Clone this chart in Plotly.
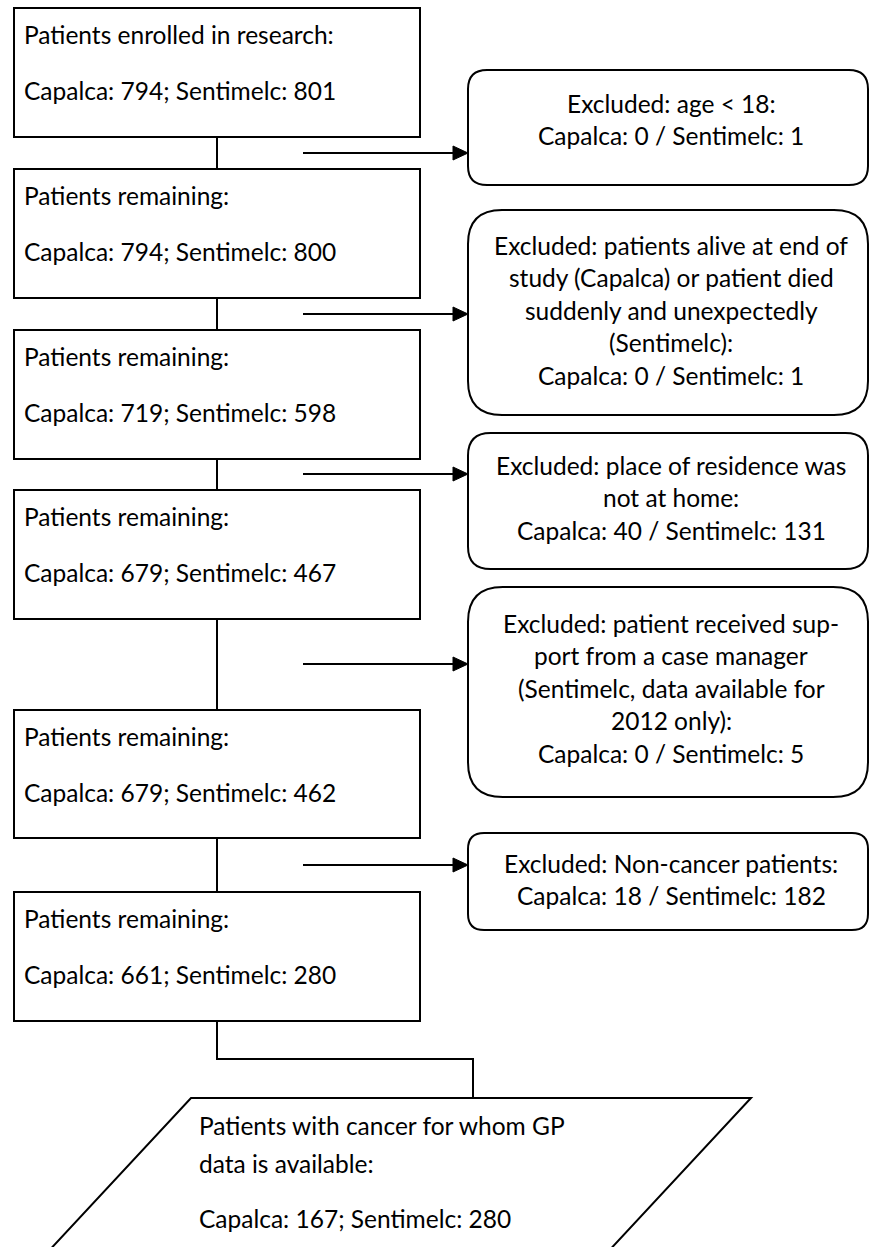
import plotly.graph_objects as go

# ---------------- data ----------------
main_titles = ["Patients enrolled in research:", "Patients remaining:", "Patients remaining:",
               "Patients remaining:", "Patients remaining:", "Patients remaining:"]
capalca_remaining = [794, 794, 719, 679, 679, 661]
sentimelc_remaining = [801, 800, 598, 467, 462, 280]

exclusion_reasons = [
    ["Excluded: age < 18:"],
    ["Excluded: patients alive at end of", "study (Capalca) or patient died",
     "suddenly and unexpectedly", "(Sentimelc):"],
    ["Excluded: place of residence was", "not at home:"],
    ["Excluded: patient received sup-", "port from a case manager",
     "(Sentimelc, data available for", "2012 only):"],
    ["Excluded: Non-cancer patients:"],
]
capalca_excluded = [0, 0, 40, 0, 18]
sentimelc_excluded = [1, 1, 131, 5, 182]

final_title = ["Patients with cancer for whom GP", "data is available:"]
final_capalca = 167
final_sentimelc = 280

# ---------------- layout geometry ----------------
W, H = 869, 1247
FONT = "Lato, Carlito, Calibri, sans-serif"
FS = 24.5
LW = 2

left_x0, left_x1 = 14, 420
left_boxes_y = [(8, 137), (169, 298), (330, 459), (490, 619), (710, 838), (892, 1021)]
right_x0, right_x1 = 468, 868
right_boxes_y = [(70, 185), (210, 415), (433, 569), (587, 797), (833, 930)]
right_first_line = [103, 245, 465, 623, 863]
line_gap = 32.5
arrow_y = [153, 314, 474, 664, 865]
arrow_x0 = 303

shapes = []
annotations = []

def line(x0, y0, x1, y1):
    shapes.append(dict(type="line", x0=x0, y0=y0, x1=x1, y1=y1, xref="x", yref="y",
                       line=dict(color="black", width=LW)))

def rounded(x0, y0, x1, y1, r):
    p = (f"M {x0+r} {y0} L {x1-r} {y0} Q {x1} {y0} {x1} {y0+r} "
         f"L {x1} {y1-r} Q {x1} {y1} {x1-r} {y1} L {x0+r} {y1} "
         f"Q {x0} {y1} {x0} {y1-r} L {x0} {y0+r} Q {x0} {y0} {x0+r} {y0} Z")
    shapes.append(dict(type="path", path=p, xref="x", yref="y",
                       line=dict(color="black", width=LW), fillcolor="white"))

def text(x, y, s, anchor="left"):
    annotations.append(dict(x=x, y=y, xref="x", yref="y", text=s, showarrow=False,
                            xanchor=anchor, yanchor="middle",
                            font=dict(family=FONT, size=FS, color="black")))

cx = (left_x0 + left_x1) / 2

# vertical connectors between main boxes
for (a0, a1), (b0, b1) in zip(left_boxes_y[:-1], left_boxes_y[1:]):
    line(cx, a1, cx, b0)

# main boxes
for i, (y0, y1) in enumerate(left_boxes_y):
    shapes.append(dict(type="rect", x0=left_x0, y0=y0, x1=left_x1, y1=y1, xref="x", yref="y",
                       line=dict(color="black", width=LW), fillcolor="white"))
    text(22, y0 + 26, main_titles[i])
    text(22, y0 + 82, f"Capalca: {capalca_remaining[i]}; Sentimelc: {sentimelc_remaining[i]}")

# arrows to exclusion boxes
for ay in arrow_y:
    line(arrow_x0, ay, right_x0 - 14, ay)
    shapes.append(dict(type="path", path=f"M {right_x0-15} {ay-7} L {right_x0} {ay} L {right_x0-15} {ay+7} Z",
                       xref="x", yref="y", line=dict(color="black", width=1), fillcolor="black"))

# exclusion boxes
rcx = (right_x0 + right_x1) / 2 + 3
for i, (y0, y1) in enumerate(right_boxes_y):
    r = min(y1 - y0, right_x1 - right_x0) * 0.166
    rounded(right_x0, y0, right_x1, y1, r)
    lines = exclusion_reasons[i] + [f"Capalca: {capalca_excluded[i]} / Sentimelc: {sentimelc_excluded[i]}"]
    for j, s in enumerate(lines):
        text(rcx, right_first_line[i] + j * line_gap, s, anchor="center")

# connector to final box
elbow_y = 1059
para_top = 1098
para_cx = 473
line(cx, left_boxes_y[-1][1], cx, elbow_y)
line(cx - 1, elbow_y, para_cx + 1, elbow_y)
line(para_cx, elbow_y, para_cx, para_top)

# parallelogram
slope = 0.93
pb = 1320
px0, px1 = 191, 751
d = (pb - para_top) * slope
shapes.append(dict(type="path",
                   path=f"M {px0} {para_top} L {px1} {para_top} L {px1-d} {pb} L {px0-d} {pb} Z",
                   xref="x", yref="y", line=dict(color="black", width=LW), fillcolor="white"))
text(197, 1125, final_title[0])
text(197, 1163, final_title[1])
text(197, 1218, f"Capalca: {final_capalca}; Sentimelc: {final_sentimelc}")

fig = go.Figure()
fig.update_layout(
    width=W, height=H, margin=dict(l=0, r=0, t=0, b=0),
    paper_bgcolor="white", plot_bgcolor="white",
    xaxis=dict(range=[0, W], visible=False, fixedrange=True),
    yaxis=dict(range=[H, 0], visible=False, fixedrange=True),
    shapes=shapes, annotations=annotations, showlegend=False,
)
fig.write_html("out.html", config={"displayModeBar": False},
               post_script="document.body.style.margin='0px';document.body.style.overflow='hidden';")
